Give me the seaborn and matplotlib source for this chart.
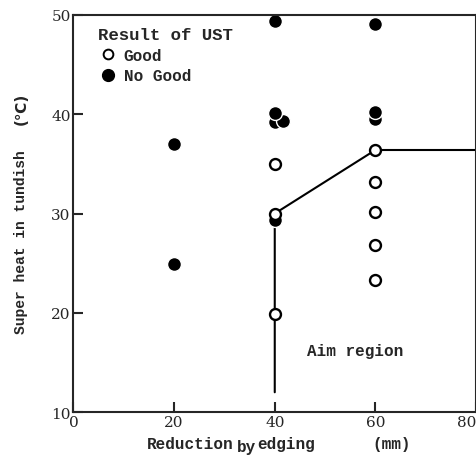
import matplotlib
matplotlib.use("Agg")
import matplotlib.pyplot as plt
from matplotlib.lines import Line2D
import pandas as pd
import seaborn as sns

# UST result points: reduction by edging (mm) vs super heat in tundish (C)
good_x = [40, 40, 40, 60, 60, 60, 60, 60]
good_y = [35.0, 30.0, 19.9, 36.4, 33.2, 30.2, 26.8, 23.3]
nogood_x = [20, 20, 40, 40, 41.7, 40, 40, 60, 60, 60]
nogood_y = [37.0, 24.9, 29.3, 39.2, 39.3, 40.1, 49.4, 49.1, 39.5, 40.2]

# boundary of the aim region
aim_x = [40, 40, 60, 80]
aim_y = [12, 30, 36.4, 36.4]

x_ticks = [0, 20, 40, 60, 80]
y_ticks = [10, 20, 30, 40, 50]

sns.set_style("ticks")
plt.rcParams["font.family"] = ["DejaVu Serif"]

good = pd.DataFrame({"x": good_x, "y": good_y})
nogood = pd.DataFrame({"x": nogood_x, "y": nogood_y})
aim = pd.DataFrame({"x": aim_x, "y": aim_y})

fig = plt.figure(figsize=(4.77, 4.56), dpi=100)
ax = fig.add_axes([0.154, 0.094, 0.844, 0.871])

sns.lineplot(data=aim, x="x", y="y", color="black", linewidth=1.5,
             sort=False, estimator=None, ax=ax, zorder=1)
sns.scatterplot(data=nogood, x="x", y="y", color="black", edgecolor="white",
                linewidth=1.0, s=100, ax=ax, zorder=2)
sns.scatterplot(data=good, x="x", y="y", color="white", edgecolor="black",
                linewidth=1.7, s=62, ax=ax, zorder=3)

ax.set_xlim(0, 80)
ax.set_ylim(10, 50)
ax.set_xticks(x_ticks)
ax.set_yticks(y_ticks)
ax.set_xlabel("")
ax.set_ylabel("")
ax.tick_params(direction="in", length=7, width=1.5, labelsize=11, pad=2)
# last x label sits at the figure edge; right-align it so it stays visible
ax.get_xticklabels()[-1].set_horizontalalignment("right")
for sp in ax.spines.values():
    sp.set_visible(True)
    sp.set_linewidth(1.5)

mono = "Liberation Mono"
handles = [
    Line2D([], [], marker="o", linestyle="none", markersize=7,
           markerfacecolor="white", markeredgecolor="black", markeredgewidth=1.4),
    Line2D([], [], marker="o", linestyle="none", markersize=8.5,
           markerfacecolor="black", markeredgecolor="black"),
]
leg = ax.legend(handles, ["Good", "No Good"], loc="upper left",
                bbox_to_anchor=(0.045, 0.985), frameon=False, title="Result of UST",
                alignment="left", handletextpad=0.3, borderaxespad=0,
                labelspacing=0.35, handlelength=1.3,
                prop={"family": mono, "weight": "bold", "size": 11.5})
leg.get_title().set_fontfamily(mono)
leg.get_title().set_fontweight("bold")
leg.get_title().set_fontsize(12.5)

ax.text(56, 16.2, "Aim region", ha="center", va="center",
        family=mono, weight="bold", fontsize=11.5)

fig.text(0.49, 0.016, "Reduction", ha="right", va="baseline",
         family=mono, weight="bold", fontsize=11.5)
fig.text(0.496, 0.008, "by", ha="left", va="baseline",
         family=mono, weight="bold", fontsize=11.5)
fig.text(0.54, 0.016, "edging", ha="left", va="baseline",
         family=mono, weight="bold", fontsize=11.5)
fig.text(0.82, 0.016, "(mm)", ha="center", va="baseline",
         family=mono, weight="bold", fontsize=11.5)
fig.text(0.045, 0.47, "Super heat in tundish", rotation=90, ha="center",
         va="center", family=mono, weight="bold", fontsize=10.5)
fig.text(0.045, 0.762, "(℃)", rotation=90, ha="center", va="center",
         family=["DejaVu Sans"], weight="bold", fontsize=11)

fig.savefig("out.png", dpi=100)
